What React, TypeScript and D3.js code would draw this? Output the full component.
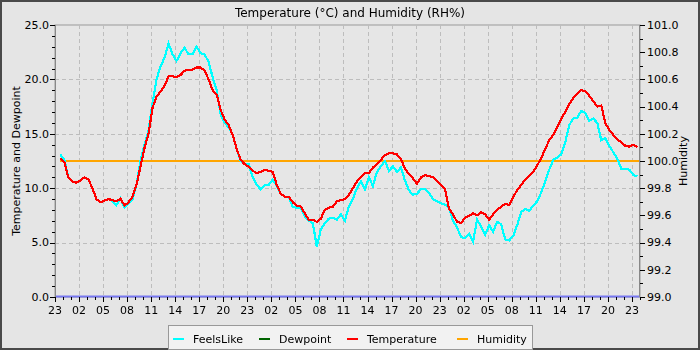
import React from 'react';
import * as d3 from 'd3';

// readings every 30 min, first one at 23:40 (hours counted from 23:00 of day 0)
const startHour = 0.67;
const stepHours = 0.5;

const temperature = [
  12.75, 12.4, 11.0, 10.6, 10.5, 10.7, 11.0, 10.8, 10.0, 9.0,
  8.7, 8.85, 9.0, 8.9, 8.8, 9.05, 8.4, 8.7, 9.2, 10.3,
  12.0, 13.7, 15.0, 17.4, 18.4, 18.9, 19.4, 20.3, 20.3, 20.2,
  20.4, 20.8, 20.9, 20.9, 21.1, 21.1, 20.8, 20.0, 19.0, 18.6,
  17.2, 16.3, 15.8, 14.9, 13.6, 12.6, 12.2, 12.0, 11.6, 11.4,
  11.5, 11.7, 11.6, 11.5, 10.3, 9.5, 9.2, 9.2, 8.7, 8.4,
  8.3, 7.7, 7.1, 7.1, 6.9, 7.2, 8.0, 8.2, 8.3, 8.8,
  8.9, 9.0, 9.4, 10.0, 10.6, 11.05, 11.4, 11.4, 11.9, 12.2,
  12.6, 13.05, 13.2, 13.2, 13.1, 12.7, 11.8, 11.3, 10.9, 10.4,
  11.0, 11.2, 11.1, 11.0, 10.7, 10.3, 9.9, 8.1, 7.6, 6.9,
  6.8, 7.3, 7.45, 7.7, 7.5, 7.8, 7.6, 7.1, 7.6, 8.0,
  8.3, 8.55, 8.45, 9.2, 9.8, 10.3, 10.8, 11.1, 11.5, 12.1,
  12.75, 13.6, 14.4, 14.9, 15.6, 16.4, 17.0, 17.7, 18.3, 18.7,
  19.0, 18.9, 18.5, 18.0, 17.5, 17.6, 16.0, 15.35, 14.9, 14.5,
  14.2, 13.9, 13.8, 14.0, 13.8,
];

const feelsLike = [
  13.1, 12.6, 11.0, 10.6, 10.5, 10.7, 11.0, 10.8, 10.0, 9.0,
  8.7, 8.85, 9.0, 8.8, 8.45, 9.05, 8.2, 8.6, 9.0, 10.3,
  12.5, 14.0, 15.3, 17.8, 20.0, 21.2, 22.0, 23.3, 22.3, 21.7,
  22.4, 22.9, 22.3, 22.3, 23.0, 22.4, 22.3, 21.6, 20.2, 19.0,
  16.8, 16.0, 15.6, 14.9, 13.6, 12.5, 12.2, 12.2, 11.0, 10.3,
  9.9, 10.3, 10.3, 10.8, 10.2, 9.5, 9.2, 9.2, 8.3, 8.2,
  8.2, 7.4, 7.0, 6.8, 4.6, 6.2, 6.8, 7.2, 7.3, 7.1,
  7.6, 7.0, 8.3, 9.0, 10.0, 10.6, 9.9, 11.0, 10.2, 11.5,
  12.0, 12.5, 11.6, 12.0, 11.5, 11.9, 10.7, 9.8, 9.4, 9.5,
  9.9, 9.9, 9.6, 9.0, 8.8, 8.6, 8.5, 8.2, 7.0, 6.4,
  5.5, 5.4, 5.8, 5.1, 7.1, 6.5, 5.7, 6.6, 6.0, 6.9,
  6.7, 5.3, 5.2, 5.6, 6.6, 7.8, 8.1, 7.9, 8.4, 8.8,
  9.6, 10.6, 11.7, 12.6, 12.8, 13.1, 14.2, 15.8, 16.4, 16.5,
  17.1, 16.9, 16.2, 16.4, 16.0, 14.4, 14.6, 13.9, 13.3, 12.7,
  11.8, 11.8, 11.7, 11.2, 11.1,
];

const humidityHours = [0.67, 73];
const humidity = [100.0, 100.0];

const hourLabels = [
  '23', '02', '05', '08', '11', '14', '17', '20',
  '23', '02', '05', '08', '11', '14', '17', '20',
  '23', '02', '05', '08', '11', '14', '17', '20', '23',
];

const legendItems = [
  { name: 'FeelsLike', color: '#00ffff' },
  { name: 'Dewpoint', color: '#006400' },
  { name: 'Temperature', color: '#ff0000' },
  { name: 'Humidity', color: '#ffa500' },
];

const width = 700;
const height = 350;
const margin = { top: 25, right: 60, bottom: 53, left: 55 };
const font = 'DejaVu Sans, sans-serif';

export default function App() {
  const x = d3.scaleLinear().domain([0, 73]).range([margin.left, width - margin.right]);
  const y = d3.scaleLinear().domain([0, 25]).range([height - margin.bottom, margin.top]);
  const yRh = d3.scaleLinear().domain([99, 101]).range([height - margin.bottom, margin.top]);

  const line = d3.line<number>()
    .x((d, i) => x(startHour + i * stepHours))
    .y(d => y(d));
  const rhLine = d3.line<number>()
    .x((d, i) => x(humidityHours[i]))
    .y(d => yRh(d));

  const x0 = margin.left;
  const x1 = width - margin.right;
  const y0 = height - margin.bottom;
  const y1 = margin.top;

  const majorX = hourLabels.map((_, i) => i * 3);
  const minorX = d3.range(0, 74);
  const majorY = d3.range(0, 26, 5);
  const minorY = d3.range(0, 26, 1);
  const majorRh = d3.range(0, 11).map(i => 99 + i * 0.2);
  const minorRh = d3.range(0, 21).map(i => 99 + i * 0.1);

  const legendX = [173, 259, 347, 457];

  return (
    <div style={{ position: 'fixed', left: 0, top: 0 }}>
      <svg width={width} height={height} style={{ display: 'block', fontFamily: font }}>
        <rect x={1} y={1} width={width - 2} height={height - 2} fill="#e5e5e5" stroke="#4a4a4a" strokeWidth={2} />
        <rect x={x0} y={y1} width={x1 - x0} height={y0 - y1} fill="#e6e6e6" stroke="#999" strokeWidth={1} />

        {/* grid */}
        {majorX.slice(1).map(h => (
          <line key={'gx' + h} x1={Math.round(x(h)) + 0.5} x2={Math.round(x(h)) + 0.5} y1={y1} y2={y0} stroke="#bdbdbd" strokeDasharray="4,3" />
        ))}
        {majorY.slice(1, -1).map(v => (
          <line key={'gy' + v} x1={x0} x2={x1} y1={Math.round(y(v)) + 0.5} y2={Math.round(y(v)) + 0.5} stroke="#bdbdbd" strokeDasharray="4,3" />
        ))}

        {/* series */}
        <path d={rhLine(humidity) || ''} fill="none" stroke="#ffa500" strokeWidth={2} shapeRendering="crispEdges" />
        <path d={line(feelsLike) || ''} fill="none" stroke="#00ffff" strokeWidth={2.2} shapeRendering="crispEdges" />
        <path d={line(temperature) || ''} fill="none" stroke="#ff0000" strokeWidth={2.2} shapeRendering="crispEdges" />
        <line x1={x0} x2={x1} y1={y0 - 0.5} y2={y0 - 0.5} stroke="#7878f0" strokeWidth={2} />

        {/* left axis */}
        <line x1={x0 + 0.5} x2={x0 + 0.5} y1={y1} y2={y0} stroke="#888" />
        {minorY.map(v => (
          <line key={'ty' + v} x1={x0 - (v % 5 === 0 ? 5 : 3)} x2={x0} y1={Math.round(y(v)) + 0.5} y2={Math.round(y(v)) + 0.5} stroke="#000" />
        ))}
        {majorY.map(v => (
          <text key={'ly' + v} x={x0 - 6} y={y(v)} dy="0.35em" textAnchor="end" fontSize={11} fill="#000">
            {v.toFixed(1)}
          </text>
        ))}
        <text transform={`translate(16,${(y0 + y1) / 2}) rotate(-90)`} textAnchor="middle" dy="0.35em" fontSize={11}>
          Temperature and Dewpoint
        </text>

        {/* right axis */}
        <line x1={x1 - 0.5} x2={x1 - 0.5} y1={y1} y2={y0} stroke="#888" />
        {minorRh.map((v, i) => (
          <line key={'tr' + i} x1={x1} x2={x1 + (i % 2 === 0 ? 5 : 3)} y1={Math.round(yRh(v)) + 0.5} y2={Math.round(yRh(v)) + 0.5} stroke="#000" />
        ))}
        {majorRh.map((v, i) => (
          <text key={'lr' + i} x={x1 + 7} y={yRh(v)} dy="0.35em" textAnchor="start" fontSize={11} fill="#000">
            {v.toFixed(1)}
          </text>
        ))}
        <text transform={`translate(683,${(y0 + y1) / 2}) rotate(-90)`} textAnchor="middle" dy="0.35em" fontSize={11}>
          Humidity
        </text>

        {/* bottom axis */}
        {minorX.map(h => (
          <line key={'tx' + h} x1={Math.round(x(h)) + 0.5} x2={Math.round(x(h)) + 0.5} y1={y0} y2={y0 + (h % 3 === 0 ? 5 : 3)} stroke="#000" />
        ))}
        {hourLabels.map((l, i) => (
          <text key={'lx' + i} x={x(majorX[i])} y={y0 + 17} textAnchor="middle" fontSize={11}>
            {l}
          </text>
        ))}

        {/* title */}
        <text x={width / 2} y={17} textAnchor="middle" fontSize={12}>
          Temperature (°C) and Humidity (RH%)
        </text>

        {/* legend */}
        <rect x={168.5} y={325.5} width={364} height={24} fill="#f2f2f2" stroke="#999" />
        {legendItems.map((d, i) => (
          <g key={d.name}>
            <line x1={legendX[i]} x2={legendX[i] + 11} y1={339} y2={339} stroke={d.color} strokeWidth={2} />
            <text x={legendX[i] + 20} y={343} fontSize={11}>{d.name}</text>
          </g>
        ))}
      </svg>
    </div>
  );
}
